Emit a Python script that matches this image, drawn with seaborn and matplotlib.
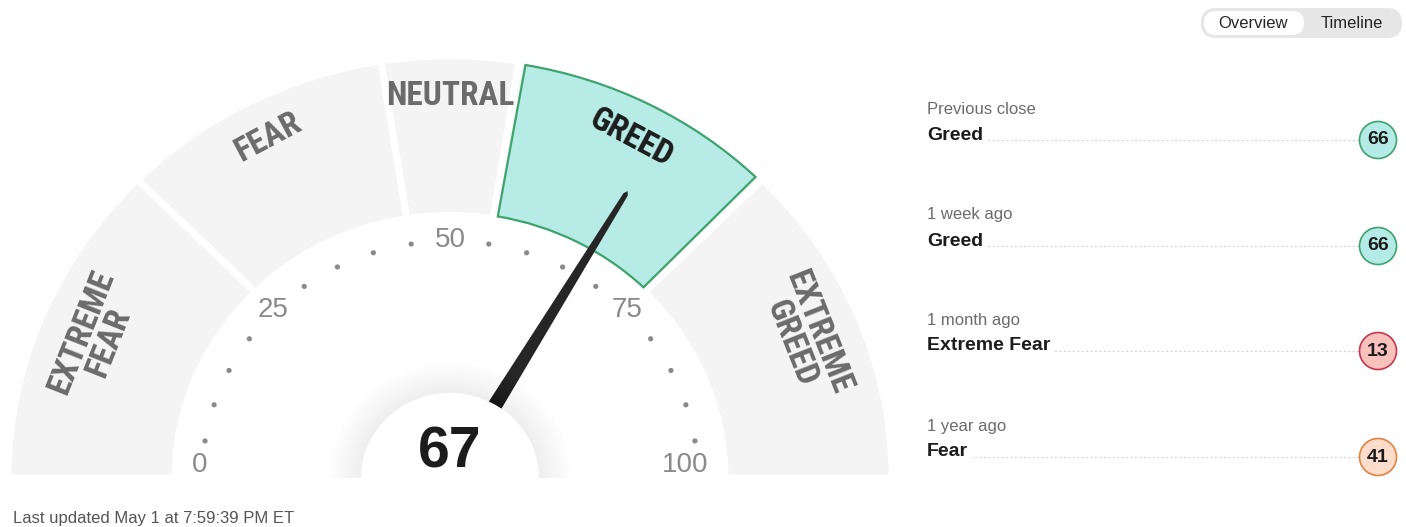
import numpy as np
import pandas as pd
import matplotlib
matplotlib.use("Agg")
import matplotlib.pyplot as plt
import seaborn as sns
from matplotlib.patches import Wedge, Circle, Polygon, FancyBboxPatch

# gauge data
zone_names = ["EXTREME\nFEAR", "FEAR", "NEUTRAL", "GREED", "EXTREME\nGREED"]
zone_edges = [0, 25, 45, 55, 75, 100]
tick_labels = [0, 25, 50, 75, 100]
current_value = 67
current_zone = "GREED"

# history panel
hist_periods = ["Previous close", "1 week ago", "1 month ago", "1 year ago"]
hist_ratings = ["Greed", "Greed", "Extreme Fear", "Fear"]
hist_values = [66, 66, 13, 41]
updated_text = "Last updated May 1 at 7:59:39 PM ET"

rating_fill = {"Extreme Fear": "#f8c1bb", "Fear": "#fcdccb", "Neutral": "#eeeeee",
               "Greed": "#b5ebe6", "Extreme Greed": "#b5ebe6"}
rating_edge = {"Extreme Fear": "#c8364b", "Fear": "#e2843f", "Neutral": "#999999",
               "Greed": "#3fa36e", "Extreme Greed": "#3fa36e"}

sns.set_theme(style="white")
plt.rcParams["font.family"] = ["Liberation Sans", "DejaVu Sans"]

W, H = 1406, 527
fig = plt.figure(figsize=(W / 100, H / 100), dpi=100)

# panel axes in pixel units
ax = fig.add_axes([0, 0, 1, 1])
ax.set_xlim(0, W)
ax.set_ylim(0, H)
ax.axis("off")

# gauge axes: slightly flattened vertically, centre at (0, 0)
sq = 0.955
cx_px, cy_px = 450, 478
gax = fig.add_axes([0, 0, 1, 1])
r_out, r_in = 442, 275


def ang(v):
    return 180 - 1.8 * v


def screen_deg(a_deg):
    a = np.radians(a_deg)
    return np.degrees(np.arctan2(sq * np.sin(a), np.cos(a)))


for i, name in enumerate(zone_names):
    a1, a2 = ang(zone_edges[i + 1]), ang(zone_edges[i])
    gax.add_patch(Wedge((0, 0), r_out, a1, a2, width=r_out - r_in,
                        facecolor="#f4f4f4", edgecolor="white", linewidth=5, zorder=1))
    if name == current_zone:
        gax.add_patch(Wedge((0, 0), r_out - 3, a1 + 0.9, a2 - 0.9, width=r_out - r_in - 6,
                            facecolor="#b6ebe6", edgecolor="#3fa36e", linewidth=1.6, zorder=2))
    mid_deg = ang((zone_edges[i] + zone_edges[i + 1]) / 2)
    mid = np.radians(mid_deg)
    rl = 384 if "\n" in name else 400
    gax.text(rl * np.cos(mid), rl * np.sin(mid), name,
             rotation=screen_deg(mid_deg) - 90, rotation_mode="anchor",
             ha="center", va="center", fontsize=24, fontweight="bold",
             linespacing=0.86, family=["Roboto Condensed", "DejaVu Sans"],
             color="#1c1c1c" if name == current_zone else "#6b6b6b", zorder=3)

# tick dots and labels
dot_vals = [v for v in range(5, 100, 5) if v % 25 != 0]
dots = pd.DataFrame({"v": dot_vals})
dots["x"] = 248 * np.cos(np.radians(ang(dots["v"])))
dots["y"] = 248 * np.sin(np.radians(ang(dots["v"])))
sns.scatterplot(data=dots, x="x", y="y", ax=gax, s=14, color="#8a8a8a",
                edgecolor="none", zorder=3, legend=False)
for t in tick_labels:
    a = np.radians(ang(t))
    ty = max(249 * np.sin(a), 13 / sq)
    tx = 250 * np.cos(a)
    ha = "center"
    if t == tick_labels[-1]:
        tx, ha = 258, "right"
    gax.text(tx, ty, str(t), ha=ha, va="center",
             fontsize=20, color="#8a8a8a", zorder=9)

# needle
a = np.radians(ang(current_value))
u = np.array([np.cos(a), np.sin(a)])
p = np.array([-u[1], u[0]])
needle = [80 * u + 7.5 * p, 345 * u + 2.5 * p, 349 * u,
          345 * u - 2.5 * p, 80 * u - 7.5 * p]
gax.add_patch(Polygon(needle, closed=True, facecolor="#262626", edgecolor="none", zorder=4))

# hub with soft shadow
for k in range(16):
    gax.add_patch(Wedge((0, 0), 122 - k * 2, 0, 180, facecolor="#000000",
                        alpha=0.005, edgecolor="none", zorder=5))
gax.add_patch(Wedge((0, 0), 89, 0, 180, facecolor="white", edgecolor="none", zorder=6))
gax.text(0, 26 / sq, str(current_value), ha="center", va="center", fontsize=41,
         fontweight="bold", color="#1c1c1c", zorder=9)

gax.set_xlim(-cx_px, W - cx_px)
gax.set_ylim(-(H - cy_px) / sq, cy_px / sq)
gax.axis("off")

# history panel
row_y = [109, 215, 320, 426]
for py, per, rat, val in zip(row_y, hist_periods, hist_ratings, hist_values):
    ly = H - (py + 31)
    ax.plot([930, 1360], [ly, ly], color="#d6d6d6", linestyle=(0, (2, 2)),
            linewidth=0.8, zorder=1)
    ax.text(927, H - py, per, ha="left", va="center", fontsize=12, color="#6b6b6b")
    ax.text(927, H - (py + 26), rat, ha="left", va="center", fontsize=14,
            fontweight="bold", color="#1c1c1c",
            bbox=dict(facecolor="white", edgecolor="none", pad=3), zorder=2)
    ax.add_patch(Circle((1378, ly), 18.5, facecolor=rating_fill[rat],
                        edgecolor=rating_edge[rat], linewidth=1.2, zorder=3))
    ax.text(1378, ly, str(val), ha="center", va="center", fontsize=14,
            fontweight="bold", color="#1c1c1c", zorder=4)

# toggle buttons
ax.add_patch(FancyBboxPatch((1201, H - 38), 201, 30, boxstyle="round,pad=0,rounding_size=15",
                            facecolor="#e6e6e6", edgecolor="none"))
ax.add_patch(FancyBboxPatch((1204, H - 35), 100, 24, boxstyle="round,pad=0,rounding_size=12",
                            facecolor="white", edgecolor="none"))
ax.text(1253, H - 23, "Overview", ha="center", va="center", fontsize=12, color="#262626")
ax.text(1352, H - 23, "Timeline", ha="center", va="center", fontsize=12, color="#262626")

ax.text(13, H - 518, updated_text, ha="left", va="center", fontsize=12,
        color="#555555", zorder=9)

fig.savefig("out.png", dpi=100)
